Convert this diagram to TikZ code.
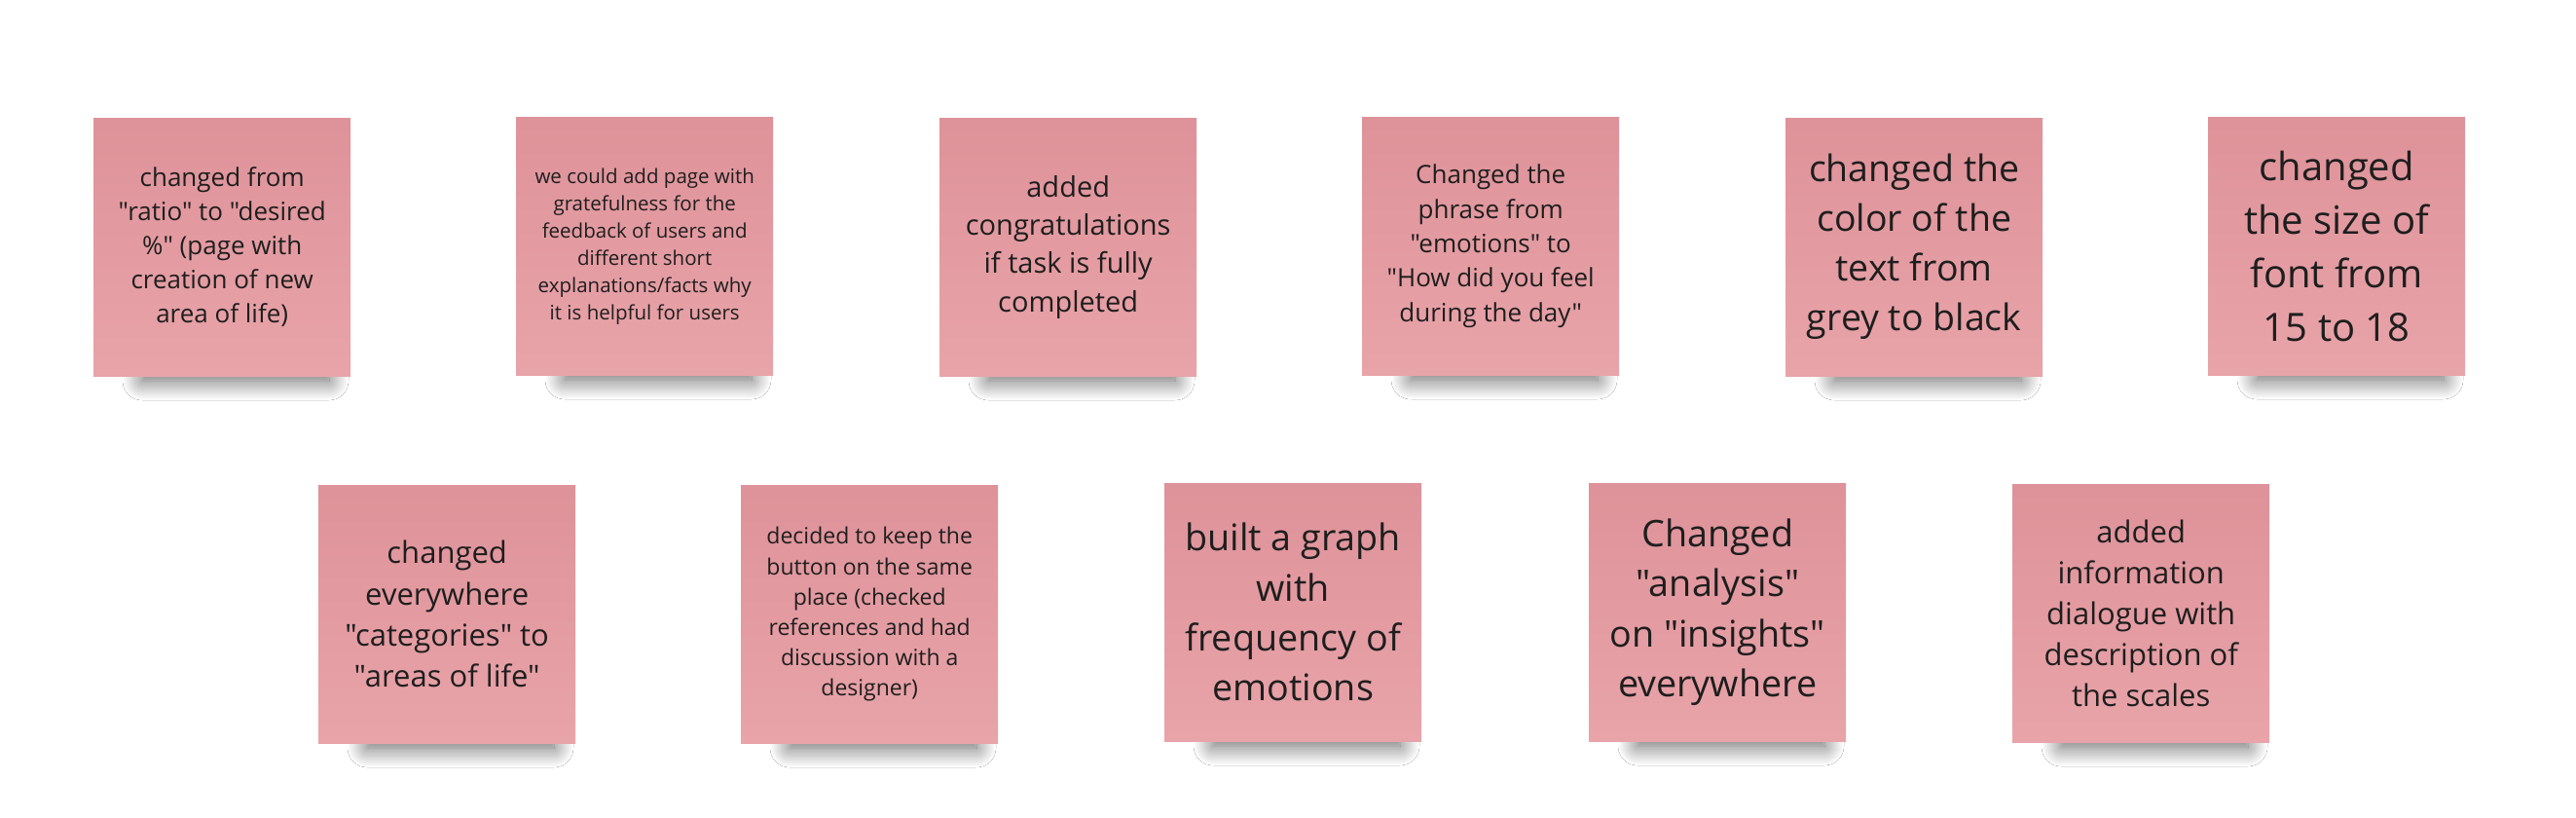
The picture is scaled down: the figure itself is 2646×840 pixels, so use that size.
\documentclass[tikz,border=0pt]{standalone}
\usepackage{fontspec}
\setmainfont{Open Sans}[Ligatures=TeXOff]
\usetikzlibrary{shadows.blur}
\definecolor{notetop}{RGB}{222,146,153}
\definecolor{notebot}{RGB}{232,164,169}
\definecolor{notetext}{RGB}{30,30,30}
\tikzset{
  sticky/.style={minimum width=264pt, minimum height=265pt, inner sep=0pt,
    anchor=north west, top color=notetop, bottom color=notebot,
    align=center, text=notetext},
  notesh/.style={blur shadow={shadow xshift=0pt, shadow yshift=0pt,
    shadow blur radius=20pt, shadow blur steps=22, shadow opacity=62}},
}
\newcommand{\stickynote}[6]{% name, x, y, size, baselineskip, text
  \path[notesh] (#2+50,#3+228) rectangle (#2+242,#3+270);
  \node[sticky, font=\fontsize{#4pt}{#5pt}\selectfont] (#1) at (#2,#3) {#6};
}
\begin{document}
\begin{tikzpicture}[x=1pt,y=-1pt]
\fill[white] (0,0) rectangle (2646,840);
\useasboundingbox (0,0) rectangle (2646,840);
% row 1
\stickynote{n1}{96}{121}{26}{35}{changed from\\"ratio" to "desired\\\%" (page with\\creation of new\\area of life)}
\stickynote{n2}{530}{120}{20.5}{28}{we could add page with\\gratefulness for the\\feedback of users and\\different short\\explanations/facts why\\it is helpful for users}
\stickynote{n3}{965}{121}{29}{39.3}{added\\congratulations\\if task is fully\\completed}
\stickynote{n4}{1399}{120}{26}{35.3}{Changed the\\phrase from\\"emotions" to\\"How did you feel\\during the day"}
\stickynote{n5}{1834}{121}{37.5}{51}{changed the\\color of the\\text from\\grey to black}
\stickynote{n6}{2268}{120}{40}{55}{changed\\the size of\\font from\\15 to 18}
% row 2
\stickynote{n7}{327}{498}{31}{42.3}{changed\\everywhere\\"categories" to\\"areas of life"}
\stickynote{n8}{761}{498}{23}{31.1}{decided to keep the\\button on the same\\place (checked\\references and had\\discussion with a\\designer)}
\stickynote{n9}{1196}{496}{37.7}{51.3}{built a graph\\with\\frequency of\\emotions}
\stickynote{n10}{1632}{496}{37.7}{51.5}{Changed\\"analysis"\\on "insights"\\everywhere}
\stickynote{n11}{2067}{497}{31}{42}{added\\information\\dialogue with\\description of\\the scales}
\end{tikzpicture}
\end{document}
